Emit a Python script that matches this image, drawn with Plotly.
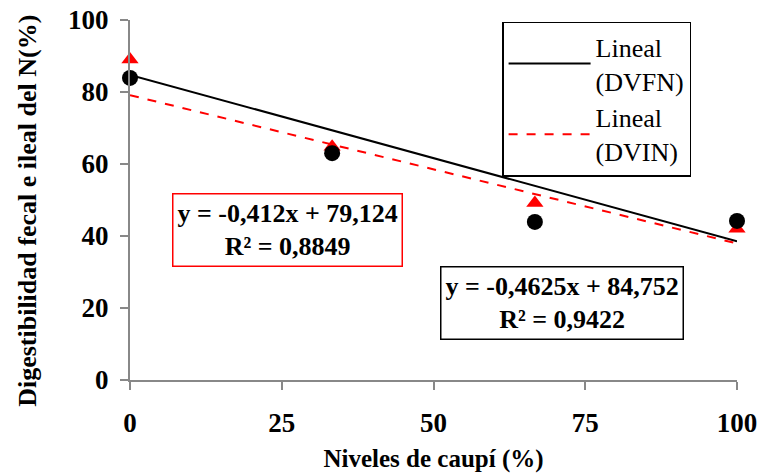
import plotly.graph_objects as go

niveles = [0, 33.3, 66.7, 100]
dvfn = [83.9, 63.0, 43.9, 44.2]
dvin = [89.0, 64.8, 49.2, 42.0]
fit_x = [0, 100]
fn_slope, fn_int = -0.4625, 84.752
in_slope, in_int = -0.412, 79.124
x_ticks = [0, 25, 50, 75, 100]
y_ticks = [0, 20, 40, 60, 80, 100]

serif = "Liberation Serif, Times New Roman, serif"

fig = go.Figure()
fig.add_trace(go.Scatter(x=fit_x, y=[fn_int + fn_slope * v for v in fit_x], mode="lines",
                         line=dict(color="black", width=2), name="Lineal<br>(DVFN)", cliponaxis=False))
fig.add_trace(go.Scatter(x=fit_x, y=[in_int + in_slope * v for v in fit_x], mode="lines",
                         line=dict(color="#ff0000", width=2, dash="dash"), name="Lineal<br>(DVIN)", cliponaxis=False))
fig.add_trace(go.Scatter(x=niveles, y=dvin, mode="markers", showlegend=False,
                         marker=dict(symbol="triangle-up", size=15, color="#ff0000"), cliponaxis=False))
fig.add_trace(go.Scatter(x=niveles, y=dvfn, mode="markers", showlegend=False,
                         marker=dict(symbol="circle", size=16, color="black"), cliponaxis=False))

fig.add_annotation(x=0.259, y=0.417, xref="paper", yref="paper", xanchor="center", yanchor="middle",
                   text="<b>y = -0,412x + 79,124<br>R² = 0,8849</b>", showarrow=False,
                   font=dict(family=serif, size=26, color="black"), align="center",
                   bordercolor="#ff0000", borderwidth=1.5, borderpad=4, bgcolor="white")
fig.add_annotation(x=0.712, y=0.214, xref="paper", yref="paper", xanchor="center", yanchor="middle",
                   text="<b>y = -0,4625x + 84,752<br>R² = 0,9422</b>", showarrow=False,
                   font=dict(family=serif, size=26, color="black"), align="center",
                   bordercolor="black", borderwidth=1.5, borderpad=4, bgcolor="white")
# y-axis title
fig.add_annotation(x=-0.168, y=0.47, xref="paper", yref="paper", xanchor="center", yanchor="middle",
                   text="<b>Digestibilidad fecal e ileal del N(%)</b>", textangle=-90, showarrow=False,
                   font=dict(family=serif, size=26, color="black"))

fig.update_layout(
    width=759, height=473,
    margin=dict(l=130, r=22, t=20, b=93),
    paper_bgcolor="white", plot_bgcolor="white",
    font=dict(family=serif, color="black"),
    legend=dict(x=0.613, y=0.995, xanchor="left", yanchor="top",
                bordercolor="black", borderwidth=1.5, bgcolor="white",
                font=dict(family=serif, size=26, color="black"),
                itemwidth=82, tracegroupgap=12),
    xaxis=dict(range=[0, 100], tickvals=x_ticks, showgrid=False, zeroline=False,
               showline=True, linecolor="#888888", linewidth=2, automargin=False,
               ticks="outside", ticklen=8, tickcolor="#888888", tickwidth=2,
               ticklabelstandoff=10,
               tickfont=dict(family=serif, size=27, color="black", weight="bold"),
               title=dict(text="<b>Niveles de caupí (%)</b>", font=dict(family=serif, size=25), standoff=12)),
    yaxis=dict(range=[0, 100], tickvals=y_ticks, showgrid=False, zeroline=False,
               showline=True, linecolor="#888888", linewidth=2, automargin=False,
               ticks="outside", ticklen=8, tickcolor="#888888", tickwidth=2,
               ticklabelstandoff=6,
               tickfont=dict(family=serif, size=27, color="black", weight="bold")),
)

fig.write_html("out.html")
